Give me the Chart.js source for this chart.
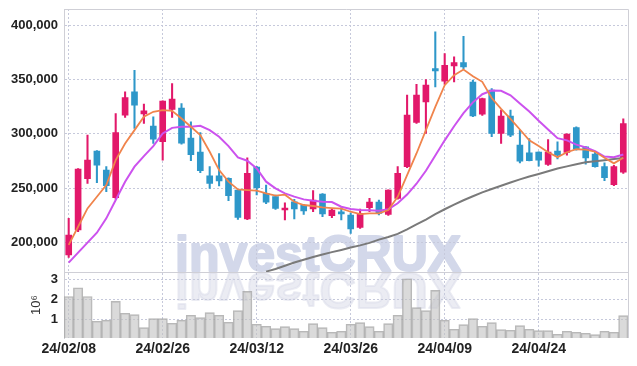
<!DOCTYPE html>
<html>
<head>
<meta charset="utf-8">
<script src="https://cdn.jsdelivr.net/npm/chart.js@4"></script>
<style>
  html, body { margin: 0; padding: 0; background: #fff; }
  #wrap { width: 637px; height: 366px; }
</style>
</head>
<body>
<div id="wrap"><canvas id="stockChart"></canvas></div>
<script>
// trading days (YY/MM/DD)
const dates = [
  "24/02/08", "24/02/13", "24/02/14", "24/02/15", "24/02/16", "24/02/19", "24/02/20", "24/02/21", "24/02/22", "24/02/23",
  "24/02/26", "24/02/27", "24/02/28", "24/02/29", "24/03/04", "24/03/05", "24/03/06", "24/03/07", "24/03/08", "24/03/11",
  "24/03/12", "24/03/13", "24/03/14", "24/03/15", "24/03/18", "24/03/19", "24/03/20", "24/03/21", "24/03/22", "24/03/25",
  "24/03/26", "24/03/27", "24/03/28", "24/03/29", "24/04/01", "24/04/02", "24/04/03", "24/04/04", "24/04/05", "24/04/08",
  "24/04/09", "24/04/11", "24/04/12", "24/04/15", "24/04/16", "24/04/17", "24/04/18", "24/04/19", "24/04/22", "24/04/23",
  "24/04/24", "24/04/25", "24/04/26", "24/04/29", "24/04/30", "24/05/02", "24/05/03", "24/05/07", "24/05/08", "24/05/09"
];

const opens = [
  188400, 211400, 258600, 284100, 266600, 241100, 317200, 338700, 318400, 307100,
  292700, 322400, 323600, 296000, 283100, 261400, 261400, 258900, 248200, 221500,
  269300, 245100, 242100, 229800, 237400, 234100, 230700, 244500, 224600, 228200,
  225200, 213800, 231900, 237100, 225800, 240500, 269700, 310400, 329500, 360100,
  348500, 362600, 365700, 347600, 318100, 340200, 300300, 316300, 289600, 282500,
  283100, 271800, 284100, 282800, 305800, 288100, 281300, 269700, 253100, 264700
];
const highs = [
  222100, 268000, 298800, 284500, 269700, 318700, 338700, 358600, 327300, 315700,
  330500, 346300, 327900, 311100, 301200, 269700, 281900, 259500, 248500, 277900,
  270000, 252800, 243600, 236500, 239600, 235000, 247600, 245000, 230500, 231900,
  227300, 230700, 240500, 239000, 248500, 269700, 335600, 345700, 350000, 393900,
  373900, 370900, 389900, 349400, 333000, 341700, 321800, 321800, 303400, 295700,
  283500, 294800, 292700, 300000, 306500, 288300, 283500, 273300, 270900, 313800
];
const lows = [
  186200, 209800, 254300, 254900, 246700, 239900, 315000, 304900, 309500, 291100,
  275800, 315000, 290500, 275200, 264100, 249700, 251900, 238400, 221200, 221000,
  243600, 235600, 230400, 220600, 221500, 225800, 228200, 223600, 222700, 220600,
  208300, 212900, 228200, 225200, 224900, 239900, 268700, 309500, 300300, 343300,
  345400, 347900, 360100, 315700, 316900, 297300, 291100, 297300, 273300, 275000,
  270300, 270900, 276900, 280400, 285000, 272100, 269300, 256800, 252200, 263500
];
const closes = [
  206800, 267500, 275800, 271200, 252200, 301200, 333400, 326400, 321200, 295100,
  330100, 331900, 291400, 280700, 266000, 254300, 256500, 243000, 223000, 263500,
  250300, 237100, 231300, 231600, 230700, 228900, 239000, 226100, 229800, 226100,
  212300, 226700, 237100, 226700, 248200, 263500, 317200, 335600, 344800, 358000,
  363200, 365700, 361700, 316600, 332500, 300300, 316300, 298800, 274900, 275200,
  275800, 283100, 280400, 299700, 285900, 277900, 269700, 259500, 269700, 309500
];

// moving averages
const maShort = [
  197600, 214400, 231300, 242000, 252800, 275800, 291100, 303400, 315700, 320300,
  321800, 321200, 314100, 306500, 298800, 283500, 266600, 255900, 248800, 248200,
  247600, 245100, 243000, 243900, 237400, 234400, 233500, 232200, 231600, 231000,
  228200, 226100, 226700, 226700, 229800, 242000, 262000, 281900, 303400, 324900,
  344800, 354000, 359200, 353100, 347900, 333000, 323000, 313800, 304000, 294000,
  288700, 283000, 278500, 283000, 285800, 285500, 283500, 278000, 272800, 278000
];
const maMid = [
  181300, 190500, 199700, 208900, 222100, 239000, 255900, 269700, 279500, 288700,
  300300, 305500, 306500, 306500, 307400, 303400, 297300, 288700, 278200, 275200,
  268100, 255900, 249700, 245100, 242100, 239600, 238400, 237400, 237100, 232800,
  230700, 229800, 229500, 229200, 230400, 236000, 244000, 254000, 266000, 280000,
  294000, 307000, 319000, 329000, 336500, 339800, 339600, 335500, 328000, 320500,
  312000, 304000, 296000, 294000, 290000, 287500, 284000, 279000, 278500, 281000
];
const maLong = [
  null, null, null, null, null, null, null, null, null, null,
  null, null, null, null, null, null, null, null, null, null,
  null, 173000, 175500, 178500, 181500, 184000, 186500, 188800, 191000, 193000,
  195200, 197200, 199500, 202500, 205000, 207800, 212000, 216500, 221000, 226000,
  230500, 234800, 238800, 242500, 246000, 249200, 252200, 255200, 258000, 260600,
  263000, 265500, 268000, 270000, 272000, 273700, 274800, 275700, 276700, 277700
];

// volume (shares)
const volumes = [
  2130000, 2570000, 2130000, 890000, 940000, 1890000, 1290000, 1220000, 570000, 1020000,
  1020000, 790000, 940000, 1190000, 1070000, 1320000, 1190000, 840000, 1420000, 2390000,
  740000, 640000, 520000, 620000, 520000, 390000, 770000, 570000, 340000, 390000,
  740000, 820000, 620000, 390000, 770000, 1190000, 3020000, 1570000, 1420000, 2440000,
  940000, 490000, 720000, 1020000, 640000, 820000, 470000, 440000, 670000, 490000,
  420000, 420000, 240000, 390000, 340000, 290000, 220000, 390000, 340000, 1170000
];

// axis ticks
const priceTicks = [200000, 250000, 300000, 350000, 400000];
const volumeTicks = [1000000, 2000000, 3000000];

const UP = "#e2186a";
const DOWN = "#2e97c9";
const GRID = "#c6c9db";
const FRAME = "#cfcfd6";
const FONT = "'Liberation Sans', Arial, sans-serif";

const candleColor = (ctx) => closes[ctx.dataIndex] >= opens[ctx.dataIndex] ? UP : DOWN;

// fixed-width left axes, no label overhang padding
const fitLeft = (s) => { s.width = 64; s.paddingTop = 0; s.paddingBottom = 0; };

// **Watermark + panel frame**
const decor = {
  id: "decor",
  beforeDraw(chart) {
    const { ctx, chartArea } = chart;
    const y = chart.scales.y;
    const vol = chart.scales.yVol;
    const x0 = chartArea.left + 111;
    const base = y.bottom;
    ctx.save();
    ctx.font = "bold 50px " + FONT;
    ctx.textBaseline = "alphabetic";
    ctx.lineJoin = "round";
    ctx.lineWidth = 2;
    ctx.fillStyle = ctx.strokeStyle = "#d3d8ea";
    ctx.fillText("investCRUX", x0, base - 1);
    ctx.strokeText("investCRUX", x0, base - 1);
    // reflection
    ctx.beginPath();
    ctx.rect(chartArea.left, vol.top, chartArea.right - chartArea.left, vol.bottom - vol.top);
    ctx.clip();
    ctx.translate(0, base * 2);
    ctx.scale(1, -1);
    ctx.fillStyle = ctx.strokeStyle = "rgba(218,220,233,0.55)";
    ctx.fillText("investCRUX", x0, base - 1);
    ctx.strokeText("investCRUX", x0, base - 1);
    ctx.restore();
  },
  afterDraw(chart) {
    const { ctx, chartArea } = chart;
    const sep = Math.round(chart.scales.y.bottom) + 0.5;
    ctx.save();
    ctx.strokeStyle = FRAME;
    ctx.lineWidth = 1;
    ctx.beginPath();
    ctx.moveTo(chartArea.left, Math.round(chartArea.top) + 0.5);
    ctx.lineTo(chartArea.right + 0.5, Math.round(chartArea.top) + 0.5);
    ctx.lineTo(chartArea.right + 0.5, chartArea.bottom);
    ctx.moveTo(chartArea.left, sep);
    ctx.lineTo(chartArea.right, sep);
    ctx.stroke();
    ctx.restore();
  }
};

new Chart(document.getElementById("stockChart"), {
  type: "bar",
  data: {
    labels: dates,
    datasets: [
      { type: "line", data: maShort, yAxisID: "y", borderColor: "#f0844c", borderWidth: 1.8, pointRadius: 0, tension: 0 },
      { type: "line", data: maMid, yAxisID: "y", borderColor: "#cc52ee", borderWidth: 2, pointRadius: 0, tension: 0 },
      { type: "line", data: maLong, yAxisID: "y", borderColor: "#7a7a7a", borderWidth: 2, pointRadius: 0, tension: 0 },
      {
        data: opens.map((o, i) => [o, closes[i]]), yAxisID: "y",
        backgroundColor: candleColor, barThickness: 6, grouped: false, minBarLength: 1
      },
      {
        data: lows.map((l, i) => [l, highs[i]]), yAxisID: "y",
        backgroundColor: candleColor, barThickness: 1.4, grouped: false
      },
      {
        data: volumes, yAxisID: "yVol",
        backgroundColor: "rgba(196,196,196,0.62)", borderColor: "rgba(160,160,160,0.75)", borderWidth: 1,
        barPercentage: 1, categoryPercentage: 1, grouped: false
      }
    ]
  },
  options: {
    responsive: true,
    maintainAspectRatio: false,
    animation: false,
    layout: { padding: { left: 0, right: 9, top: 9, bottom: 9 } },
    plugins: { legend: { display: false }, tooltip: { enabled: false } },
    scales: {
      x: {
        offset: true,
        grid: {
          offset: false,
          drawTicks: false,
          color: (c) => c.index % 10 === 0 ? GRID : "rgba(0,0,0,0)"
        },
        border: { display: false, dash: [2, 2] },
        ticks: {
          autoSkip: false, maxRotation: 0, padding: 3, color: "#222",
          font: { family: FONT, size: 14, weight: "bold" },
          callback: function (val, i) { return i % 10 === 0 ? this.getLabelForValue(val) : ""; }
        },
        afterFit: (s) => { s.height = 19; s.paddingLeft = 0; s.paddingRight = 0; }
      },
      yVol: {
        position: "left", stack: "panels", stackWeight: 1,
        min: 50000, max: 3350000,
        afterBuildTicks: (s) => { s.ticks = volumeTicks.map((v) => ({ value: v })); },
        afterTickToLabelConversion: (s) => { s.ticks.forEach((t) => { t.label = String(t.value / 1000000); }); },
        grid: { color: GRID, drawTicks: false },
        border: { display: true, color: FRAME, dash: [2, 2] },
        title: {
          display: true, text: "10⁶", color: "#333", padding: { top: 29, bottom: 0 },
          font: { family: FONT, size: 13 }
        },
        ticks: {
          autoSkip: false, autoSkipPadding: 0, padding: 6, color: "#222",
          font: { family: FONT, size: 13, weight: "bold", lineHeight: 1 }
        },
        afterFit: fitLeft
      },
      y: {
        position: "left", stack: "panels", stackWeight: 4,
        min: 172500, max: 415000,
        afterBuildTicks: (s) => { s.ticks = priceTicks.map((v) => ({ value: v })); },
        grid: { color: GRID, drawTicks: false },
        border: { display: true, color: FRAME, dash: [2, 2] },
        ticks: {
          autoSkip: false, padding: 6, color: "#222", font: { family: FONT, size: 13, weight: "bold" },
          callback: (v) => v.toLocaleString("en-US")
        },
        afterFit: fitLeft
      }
    }
  },
  plugins: [decor]
});
</script>
</body>
</html>
